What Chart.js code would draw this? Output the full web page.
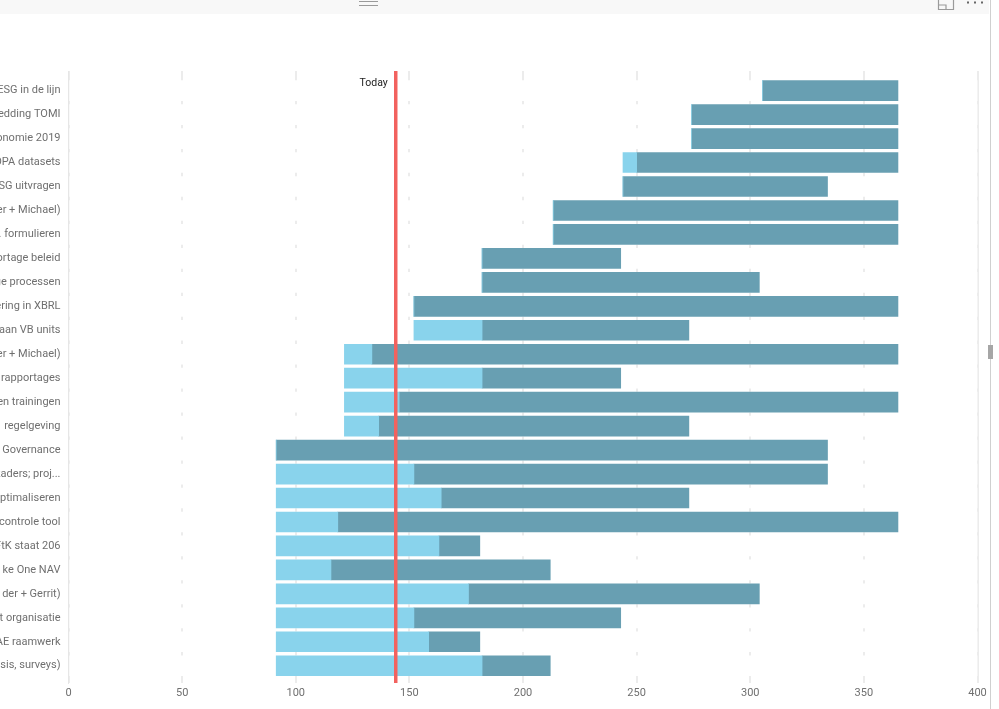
<!DOCTYPE html>
<html lang="en">
<head>
    <meta charset="UTF-8">
    <title>Planning</title>
    <script src="https://cdn.jsdelivr.net/npm/chart.js"></script>
    <style>
        html, body { margin:0; padding:0; background:#fff; overflow:hidden; }
        #wrap { position:relative; width:999px; height:709px; }
        #topbar { position:absolute; left:0; top:0; width:989px; height:14px; background:#f8f8f8; overflow:hidden; }
        #rail { position:absolute; left:990px; top:0; width:1px; height:709px; background:#d0d0d0; }
        #handle { position:absolute; left:988px; top:345px; width:5px; height:14px; background:#a6a6a6; }
        canvas { position:absolute; left:0; top:0; }
    </style>
</head>
<body>
<div id="wrap">
    <canvas id="gantt" width="999" height="709"></canvas>
    <div id="topbar">
        <svg width="989" height="14" style="position:absolute;left:0;top:0">
            <path d="M359 1.5H378M359 5.5H378" stroke="#9a9a9a" stroke-width="1.2" fill="none"/>
            <path d="M938.5 -2V9.5H953.5V-2M938.5 5H946V9.5" stroke="#9a9a9a" stroke-width="1.2" fill="none"/>
            <path d="M967 2.5h2M974 2.5h2M981 2.5h2" stroke="#666" stroke-width="2" fill="none"/>
        </svg>
    </div>
    <div id="rail"></div>
    <div id="handle"></div>
</div>

<script>
const labels = [
  'ESG in de lijn', 'edding TOMI', 'onomie 2019', 'OPA datasets', 'SG uitvragen',
  'er + Michael)', '. formulieren', 'ortage beleid', 'ge processen', 'ering in XBRL',
  'aan VB units', 'er + Michael)', 'rapportages', 'en trainingen', 'regelgeving',
  'Governance', 'kaders; proj...', 'ptimaliseren', 'controle tool', 'FtK staat 206',
  'ke One NAV', 'der + Gerrit)', 't organisatie', 'AE raamwerk', 'risis, surveys)'
];
const starts = [305.4, 274.2, 274.2, 244, 244, 213.3, 213.3, 182, 182, 152, 152, 121.4, 121.4, 121.4, 121.4, 91.4, 91.4, 91.4, 91.4, 91.4, 91.4, 91.4, 91.4, 91.4, 91.4];
const splits = [305.4, 274.2, 274.2, 250, 244, 213.3, 213.3, 182, 182, 152, 182, 133.5, 182, 145.5, 136.5, 91.4, 152, 164, 118.5, 163, 115.5, 176, 152, 158.5, 182];
const ends = [365, 365, 365, 365, 334, 365, 365, 243, 304, 365, 273, 365, 243, 365, 273, 334, 334, 273, 365, 181, 212, 304, 243, 181, 212];
const todayValue = 144;
const xTicks = [0, 50, 100, 150, 200, 250, 300, 350, 400];

const lightColor = '#89d3ec';
const darkColor = '#689fb2';
const rowMin = -0.82, rowMax = 24.72;

const lightBars = labels.map((l, i) => ({ x: [starts[i], splits[i]], y: i }));
const darkBars = labels.map((l, i) => ({ x: [splits[i], ends[i]], y: i }));
// white row backgrounds, they hide the gridlines except in the gaps between rows
const rowBands = labels.map((l, i) => ({ x: [0.5, 400], y: i }));

const todayLabel = {
  id: 'todayLabel',
  afterDatasetsDraw(chart) {
    const ctx = chart.ctx;
    ctx.save();
    ctx.font = '10.5px Roboto';
    ctx.fillStyle = '#222';
    ctx.textAlign = 'right';
    ctx.textBaseline = 'middle';
    ctx.fillText('Today', chart.scales.x.getPixelForValue(todayValue) - 8, chart.scales.y.getPixelForValue(-0.29));
    ctx.restore();
  }
};

new Chart(document.getElementById('gantt'), {
  type: 'bar',
  data: {
    datasets: [
      { label: 'Done', data: lightBars, backgroundColor: lightColor, barThickness: 20, grouped: false, order: 1 },
      { label: 'Remaining', data: darkBars, backgroundColor: darkColor, barThickness: 20, grouped: false, order: 1 },
      { label: 'Rows', data: rowBands, backgroundColor: '#ffffff', barThickness: 20, grouped: false, order: 2 },
      {
        type: 'line', label: 'Today',
        data: [{ x: todayValue, y: rowMin }, { x: todayValue, y: rowMax }],
        borderColor: '#f2625f', borderWidth: 3.5, pointRadius: 0, order: -1
      }
    ]
  },
  options: {
    indexAxis: 'y',
    responsive: false,
    animation: false,
    layout: { padding: { top: 71, right: 21.5, bottom: 0, left: 0 } },
    plugins: { legend: { display: false }, tooltip: { enabled: false } },
    scales: {
      x: {
        type: 'linear', min: 0, max: 400,
        afterBuildTicks: scale => { scale.ticks = xTicks.map(v => ({ value: v })); },
        afterFit: scale => { scale.height = 26; },
        grid: { color: '#ececec', lineWidth: 2, drawTicks: false, tickLength: 0 },
        border: { display: false },
        ticks: { color: '#6f6f6f', font: { family: 'Roboto', size: 11 }, padding: 4, maxRotation: 0 }
      },
      y: {
        type: 'linear', reverse: true, min: rowMin, max: rowMax, offset: false,
        afterBuildTicks: scale => { scale.ticks = labels.map((l, i) => ({ value: i })); },
        afterFit: scale => { scale.width = 68.5; },
        grid: { display: false, drawTicks: false },
        border: { display: true, color: '#e6e6e6', width: 1 },
        ticks: {
          autoSkip: false, color: '#6f6f6f', padding: 8,
          font: { family: 'Roboto', size: 11 },
          callback: v => labels[v]
        }
      }
    }
  },
  plugins: [todayLabel]
});
</script>
</body>
</html>
